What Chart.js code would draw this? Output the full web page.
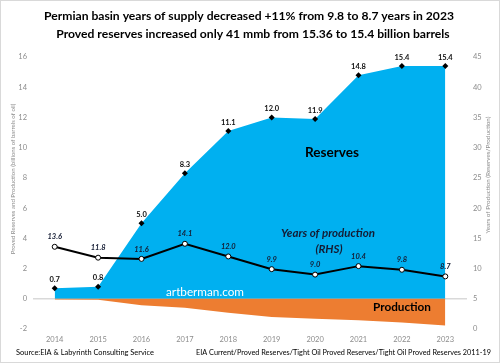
<!DOCTYPE html>
<html>
<head>
<meta charset="utf-8">
<script src="https://cdn.jsdelivr.net/npm/chart.js@4"></script>
<style>
  html, body { margin: 0; padding: 0; background: #fff; }
  #wrap { position: relative; width: 500px; height: 363px; box-sizing: border-box; border: 1px solid #d9d9d9; }
  canvas { display: block; width: 498px; height: 361px; }
</style>
</head>
<body>
<div id="wrap"><canvas id="chart" width="498" height="361"></canvas></div>
<script>
// ============================================================
// Permian basin proved reserves, production and years of supply
// ============================================================

const years = ['2014', '2015', '2016', '2017', '2018', '2019', '2020', '2021', '2022', '2023'];
const reserves = [0.7, 0.8, 5.0, 8.3, 11.1, 12.0, 11.9, 14.8, 15.4, 15.4];
const production = [-0.05, -0.07, -0.43, -0.59, -0.93, -1.21, -1.32, -1.42, -1.57, -1.77];
const yearsOfProduction = [13.6, 11.8, 11.6, 14.1, 12.0, 9.9, 9.0, 10.4, 9.8, 8.7];

const titleLines = [
  'Permian basin years of supply decreased +11% from 9.8 to 8.7 years in 2023',
  'Proved reserves increased only 41 mmb from 15.36 to 15.4 billion barrels'
];
const sourceLeft = 'Source:EIA & Labyrinth Consulting Service';
const sourceRight = 'EIA Current/Proved Reserves/Tight Oil Proved Reserves/Tight Oil Proved Reserves 2011-19';
const leftTitle = 'Proved Reserves and Production (billions of barrels of oil)';
const rightTitle = 'Years of Production (Reserves/Production)';

const BLUE = '#00b0f0';
const ORANGE = '#ed7d31';
const GREY = '#8c8c8c';
const FONT = 'Lato, "Open Sans", sans-serif';

// shrink/grow a font so that the text takes the wanted width
function fitFont(ctx, text, width, style) {
  ctx.font = style + ' 10px ' + FONT;
  const size = 10 * width / ctx.measureText(text).width;
  ctx.font = style + ' ' + size.toFixed(2) + 'px ' + FONT;
  return size;
}

// Point labels + free text drawn on top of the chart
const textPlugin = {
  id: 'textPlugin',
  afterDatasetsDraw(chart) {
    const ctx = chart.ctx;
    ctx.save();
    ctx.textAlign = 'center';
    ctx.textBaseline = 'bottom';

    // reserves labels
    ctx.fillStyle = '#111';
    ctx.font = 'bold 7.5px ' + FONT;
    chart.getDatasetMeta(0).data.forEach((pt, i) => {
      ctx.fillText(reserves[i].toFixed(1), pt.x, pt.y - 5);
    });

    // years of production labels
    ctx.fillStyle = '#141c33';
    ctx.font = 'italic bold 7.5px ' + FONT;
    chart.getDatasetMeta(2).data.forEach((pt, i) => {
      ctx.fillText(yearsOfProduction[i].toFixed(1), pt.x, pt.y - 6);
    });

    ctx.textBaseline = 'middle';
    ctx.fillStyle = '#000';
    fitFont(ctx, 'Reserves', 54, 'bold');
    ctx.fillText('Reserves', 331, 152);

    ctx.fillStyle = '#141c33';
    const rhsSize = fitFont(ctx, 'Years of production', 94, 'italic bold');
    ctx.fillText('Years of production', 327, 232);
    ctx.fillText('(RHS)', 328, 248);

    ctx.fillStyle = '#fff';
    fitFont(ctx, 'artberman.com', 78, '');
    ctx.fillText('artberman.com', 204, 291);

    ctx.fillStyle = '#000';
    fitFont(ctx, 'Production', 58, 'bold');
    ctx.fillText('Production', 401, 306);

    // title, both lines at the same size
    const tSize = fitFont(ctx, titleLines[0], 410, 'bold');
    ctx.fillText(titleLines[0], 248, 15);
    ctx.font = 'bold ' + tSize.toFixed(2) + 'px ' + FONT;
    ctx.fillText(titleLines[1], 252, 33);

    // sources
    ctx.textAlign = 'left';
    fitFont(ctx, sourceLeft, 138, '');
    ctx.fillText(sourceLeft, 15, 352);
    fitFont(ctx, sourceRight, 295, '');
    ctx.fillText(sourceRight, 195, 352);

    // axis titles
    ctx.textAlign = 'center';
    ctx.fillStyle = GREY;
    ctx.save();
    ctx.translate(12, 178);
    ctx.rotate(-Math.PI / 2);
    fitFont(ctx, leftTitle, 151, '');
    ctx.fillText(leftTitle, 0, 0);
    ctx.restore();
    ctx.save();
    ctx.translate(487, 174);
    ctx.rotate(-Math.PI / 2);
    fitFont(ctx, rightTitle, 117, '');
    ctx.fillText(rightTitle, 0, 0);
    ctx.restore();

    ctx.restore();
  }
};

new Chart(document.getElementById('chart'), {
  type: 'line',
  data: {
    labels: years,
    datasets: [
      {
        label: 'Reserves',
        data: reserves,
        yAxisID: 'y',
        borderWidth: 0,
        backgroundColor: BLUE,
        fill: 'origin',
        pointStyle: 'rectRot',
        pointRadius: 3,
        pointBackgroundColor: '#000',
        pointBorderColor: '#000',
        tension: 0,
        order: 3,
      },
      {
        label: 'Production',
        data: production,
        yAxisID: 'y',
        borderWidth: 0,
        backgroundColor: ORANGE,
        fill: 'origin',
        pointRadius: 0,
        tension: 0,
        order: 2,
      },
      {
        label: 'Years of production',
        data: yearsOfProduction,
        yAxisID: 'y1',
        borderColor: '#000',
        borderWidth: 2,
        fill: false,
        pointRadius: 2.5,
        pointBackgroundColor: '#fff',
        pointBorderColor: '#000',
        pointBorderWidth: 1,
        tension: 0,
        order: 1,
      }
    ]
  },
  options: {
    responsive: false,
    maintainAspectRatio: false,
    animation: false,
    layout: { padding: { top: 56, bottom: 0, left: 0, right: 0 } },
    plugins: { legend: { display: false }, tooltip: { enabled: false }, title: { display: false } },
    scales: {
      x: {
        offset: true,
        grid: { display: false, drawTicks: false },
        border: { display: false },
        ticks: { color: GREY, font: { family: FONT, size: 7.5 }, padding: 6, maxRotation: 0 },
        afterFit: s => { s.height = 33; },
      },
      y: {
        position: 'left',
        min: -2,
        max: 16,
        ticks: { stepSize: 2, color: GREY, font: { family: FONT, size: 7.5 }, padding: 6 },
        grid: {
          drawTicks: false,
          lineWidth: 1.5,
          color: ctx => ctx.tick && ctx.tick.value === 0 ? '#d9d9d9' : 'transparent',
        },
        border: { display: false },
        afterFit: s => { s.width = 32; },
      },
      y1: {
        position: 'right',
        min: 0,
        max: 45,
        ticks: { stepSize: 5, color: GREY, font: { family: FONT, size: 7.5 }, padding: 6 },
        grid: { display: false, drawTicks: false },
        border: { display: false },
        afterFit: s => { s.width = 32; },
      }
    }
  },
  plugins: [textPlugin]
});
</script>
</body>
</html>
